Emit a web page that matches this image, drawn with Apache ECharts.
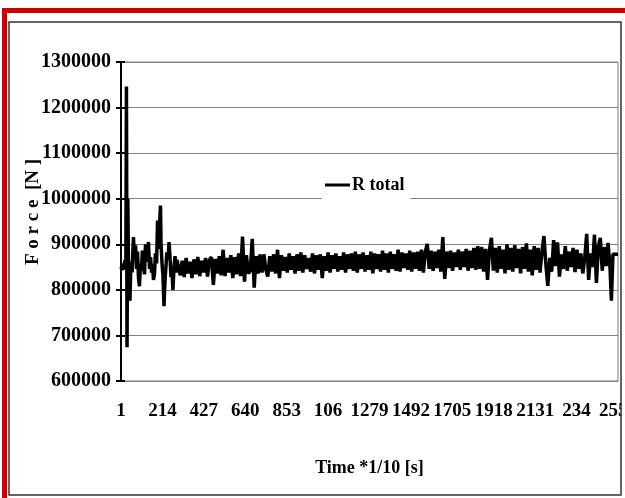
<!DOCTYPE html>
<html>
<head>
<meta charset="utf-8">
<script src="https://cdn.jsdelivr.net/npm/echarts@6/dist/echarts.min.js"></script>
<style>
html, body { margin: 0; padding: 0; background: #fff; }
#main { width: 625px; height: 498px; }
</style>
</head>
<body>
<div id="main"></div>
<script>
// tick labels as printed under the axis (two of them are cut short in the original)
var tickLabels = ['1', '214', '427', '640', '853', '106', '1279', '1492', '1705', '1918', '2131', '234', '2557'];
var tickStep = 213;
var seriesName = 'R total';

// sample offset (sample number - 1) and force in N
var sampleOffset = [
    0, 5, 10, 15, 21, 25, 28, 31, 35, 39,
    44, 46, 51, 57, 64, 69, 75, 80, 85, 90,
    95, 100, 105, 110, 116, 121, 126, 131, 136, 141,
    147, 152, 157, 162, 167, 172, 177, 183, 188, 193,
    198, 203, 206, 211, 216, 221, 226, 231, 236, 242,
    247, 252, 257, 262, 267, 273, 278, 283, 288,
    295, 305, 315, 325, 335, 345, 355, 365, 375, 385,
    395, 405, 415, 425, 435, 445, 455, 465, 475, 485,
    495, 505, 515, 525, 535, 545, 555, 565, 575, 585,
    595, 605, 615, 625, 635, 645, 655, 665, 675, 685,
    695, 705, 715, 725, 735, 745, 755, 765, 775, 785,
    795, 805, 815, 825, 835, 845, 855, 865, 875, 885,
    895, 905, 915, 925, 935, 945, 955, 965, 975, 985,
    995, 1005, 1015, 1025, 1035, 1045, 1055, 1065, 1075, 1085,
    1095, 1105, 1115, 1125, 1135, 1145, 1155, 1165, 1175, 1185,
    1195, 1205, 1215, 1225, 1235, 1245, 1255, 1265, 1275, 1285,
    1295, 1305, 1315, 1325, 1335, 1345, 1355, 1365, 1375, 1385,
    1395, 1405, 1415, 1425, 1435, 1445, 1455, 1465, 1475, 1485,
    1495, 1505, 1515, 1525, 1535, 1545, 1555, 1565, 1575, 1585,
    1595, 1605, 1615, 1625, 1635, 1645, 1655, 1665, 1675, 1685,
    1695, 1705, 1715, 1725, 1735, 1745, 1755, 1765, 1775, 1785,
    1795, 1805, 1815, 1825, 1835, 1845, 1855, 1865, 1875, 1885,
    1895, 1905, 1915, 1925, 1935, 1945, 1955, 1965, 1975, 1985,
    1995, 2005, 2015, 2025, 2035, 2045, 2055, 2065, 2075, 2085,
    2095, 2105, 2115, 2125, 2135, 2145, 2155, 2165, 2175, 2185,
    2195, 2205, 2215, 2225, 2235, 2245, 2255, 2265, 2275, 2285,
    2295, 2305, 2315, 2325, 2335, 2345, 2355, 2365, 2375, 2385,
    2395, 2405, 2415, 2425, 2435, 2445, 2455, 2465, 2475, 2485,
    2495, 2505, 2515, 2522, 2530, 2545, 2556
];

var forceN = [
    850000, 843000, 858000, 845000, 866000, 848000, 1246000, 674000, 1000000, 830000,
    790000, 776000, 862000, 838000, 916000, 872000, 898000, 846000, 884000, 826000,
    808000, 858000, 842000, 886000, 850000, 834000, 900000, 862000, 880000, 905000,
    846000, 872000, 838000, 856000, 822000, 834000, 880000, 858000, 952000, 890000,
    940000, 985000, 900000, 858000, 830000, 764000, 818000, 850000, 882000, 866000,
    905000, 872000, 828000, 846000, 800000, 852000, 874000, 838000, 866000,
    // 295 - 455
    868000, 832000, 864000, 828000, 870000, 836000, 862000, 826000, 867000, 834000,
    872000, 830000, 864000, 838000, 870000, 829000, 866000,
    // 465 - 715
    872000, 811000, 868000, 836000, 874000, 832000, 888000, 830000, 870000, 838000,
    876000, 826000, 872000, 834000, 880000, 830000, 917000, 818000, 876000, 836000,
    842000, 912000, 805000, 874000, 836000, 878000,
    // 725 - 1175
    838000, 878000, 844000, 829000, 874000, 840000, 878000, 836000, 888000, 826000,
    876000, 842000, 872000, 838000, 880000, 844000, 874000, 836000, 878000, 842000,
    882000, 838000, 876000, 846000, 870000, 840000, 880000, 836000, 876000, 844000,
    878000, 826000, 874000, 842000, 882000, 838000, 876000, 846000, 880000, 840000,
    874000, 844000, 882000, 838000, 878000, 846000,
    // 1185 - 1845
    880000, 842000, 884000, 838000, 878000, 846000, 882000, 840000, 876000, 844000,
    884000, 836000, 880000, 846000, 878000, 840000, 886000, 844000, 880000, 838000,
    884000, 846000, 878000, 842000, 888000, 840000, 882000, 848000, 880000, 844000,
    886000, 840000, 882000, 846000, 884000, 842000, 888000, 838000, 884000, 901000,
    846000, 886000, 842000, 884000, 848000, 888000, 840000, 916000, 824000, 884000,
    848000, 886000, 842000, 882000, 850000, 888000, 844000, 884000, 850000, 890000,
    842000, 886000, 848000, 892000, 844000, 896000, 846000,
    // 1855 - 2155
    894000, 840000, 890000, 822000, 888000, 914000, 842000, 892000, 838000, 896000,
    846000, 888000, 836000, 900000, 844000, 892000, 840000, 898000, 848000, 890000,
    836000, 894000, 846000, 902000, 840000, 888000, 832000, 896000, 844000, 892000,
    838000,
    // 2165 - 2556
    884000, 918000, 856000, 809000, 870000, 840000, 909000, 852000, 904000, 829000,
    878000, 846000, 896000, 842000, 884000, 850000, 892000, 839000, 888000, 846000,
    880000, 836000, 870000, 923000, 822000, 880000, 850000, 921000, 815000, 896000,
    914000, 842000, 894000, 852000, 903000, 848000, 776000, 878000, 878000, 878000
];

var myChart = echarts.init(document.getElementById('main'));
var font = 'Liberation Serif';

var points = sampleOffset.map(function (s, i) {
    return [s, forceN[i]];
});

var option = {
    animation: false,
    backgroundColor: '#fff',
    grid: {
        left: 121,
        right: 7,
        top: 62,
        bottom: 117,
        outerBoundsMode: 'none',
        containLabel: false,
        show: true,
        borderColor: '#808080',
        borderWidth: 1
    },
    legend: {
        data: [seriesName],
        left: 322,
        top: 171,
        padding: [5, 6, 12, 3],
        backgroundColor: '#fff',
        icon: 'rect',
        itemWidth: 25,
        itemHeight: 3,
        itemGap: 0,
        textStyle: {
            fontFamily: font,
            fontWeight: 'bold',
            fontSize: 18,
            color: '#000',
            padding: [0, 0, 0, -3]
        }
    },
    xAxis: {
        type: 'value',
        min: 0,
        max: 2556,
        interval: tickStep,
        name: 'Time *1/10 [s]',
        nameLocation: 'middle',
        nameGap: 78,
        nameTextStyle: {
            fontFamily: font,
            fontWeight: 'bold',
            fontSize: 18,
            color: '#000'
        },
        axisLine: { lineStyle: { color: '#808080', width: 1 } },
        axisTick: { show: false },
        splitLine: { show: false },
        axisLabel: {
            showMinLabel: true,
            showMaxLabel: true,
            margin: 21,
            fontFamily: font,
            fontWeight: 'bold',
            fontSize: 19,
            color: '#000',
            formatter: function (v) {
                return tickLabels[Math.round(v / tickStep)];
            }
        }
    },
    yAxis: [{
        type: 'value',
        min: 600000,
        max: 1300000,
        interval: 100000,
        axisLine: { show: true, lineStyle: { color: '#000', width: 2 } },
        axisTick: { show: true, length: 5, lineStyle: { color: '#000', width: 2 } },
        splitLine: { lineStyle: { color: '#808080', width: 1 } },
        axisLabel: {
            margin: 10,
            fontFamily: font,
            fontWeight: 'bold',
            fontSize: 20,
            color: '#000',
            formatter: function (v) {
                return String(v);
            }
        }
    }, {
        type: 'value',
        position: 'left',
        min: 600000,
        max: 1300000,
        interval: 100000,
        axisLine: { show: false },
        axisTick: { show: true, inside: true, length: 4, lineStyle: { color: '#000', width: 2 } },
        splitLine: { show: false },
        axisLabel: { show: false }
    }],
    series: [{
        name: seriesName,
        type: 'line',
        data: points,
        showSymbol: false,
        symbol: 'none',
        itemStyle: { color: '#000' },
        lineStyle: { color: '#000', width: 3.5 }
    }],
    graphic: [
        { type: 'rect', z: 100, shape: { x: 622, y: 385, width: 3, height: 45 }, style: { fill: '#fff' } },
        { type: 'rect', z: 100, shape: { x: 2, y: 8, width: 623, height: 5 }, style: { fill: '#cc0000' } },
        { type: 'rect', z: 100, shape: { x: 2, y: 8, width: 5, height: 490 }, style: { fill: '#cc0000' } },
        { type: 'rect', z: 100, shape: { x: 9, y: 22, width: 612, height: 473 }, style: { fill: 'none', stroke: '#333', lineWidth: 1.5 } },
        {
            type: 'text',
            z: 100,
            x: 33,
            y: 212,
            rotation: Math.PI / 2,
            style: {
                text: 'F o r c e  [N ]',
                fontFamily: font,
                fontWeight: 'bold',
                fontSize: 19,
                fill: '#000',
                align: 'center',
                verticalAlign: 'middle'
            }
        }
    ]
};

myChart.setOption(option);
</script>
</body>
</html>
